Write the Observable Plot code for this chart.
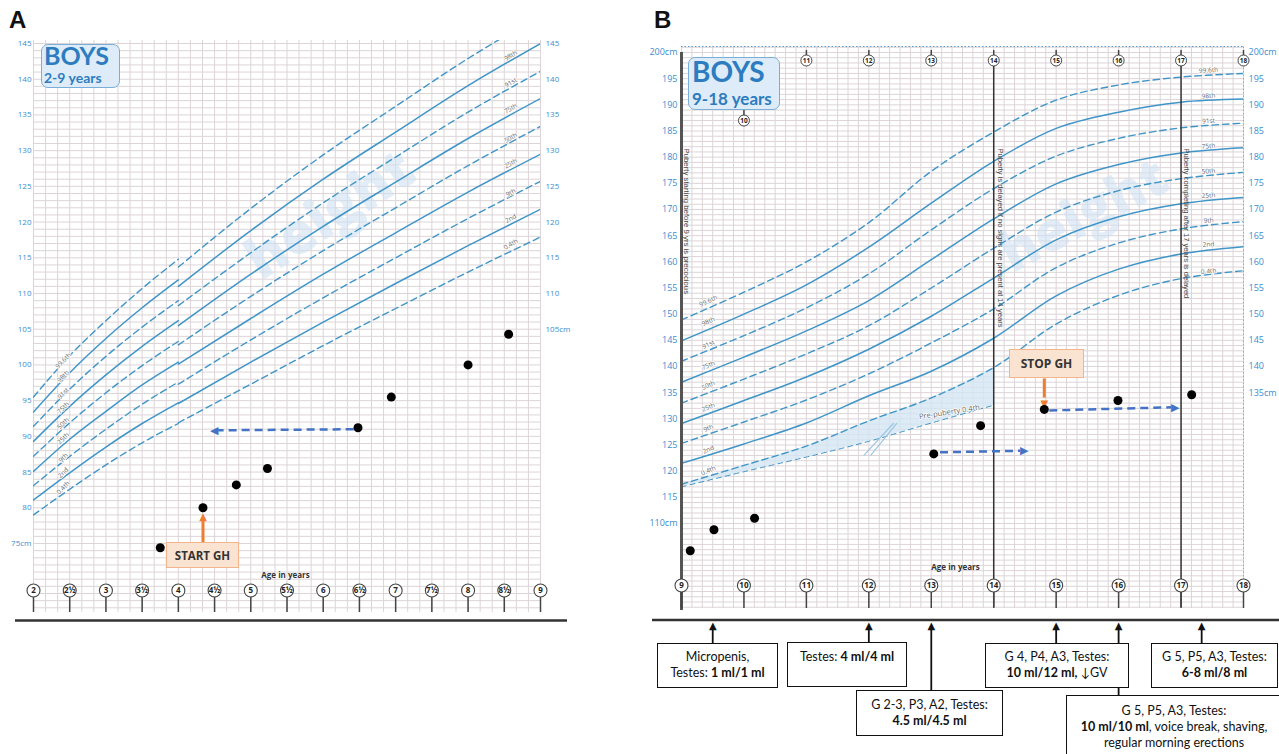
<!DOCTYPE html>
<html><head><meta charset="utf-8">
<script src="https://cdn.jsdelivr.net/npm/d3@7"></script>
<script src="https://cdn.jsdelivr.net/npm/@observablehq/plot@0.6"></script>
<style>
html,body{margin:0;padding:0;background:#fff;}
body{width:1279px;height:754px;position:relative;overflow:hidden;}
#A,#B{position:absolute;top:0;}
#A{left:0;} #B{left:640px;}
#A svg,#B svg{max-width:none;display:block;}
.letter{position:absolute;font:bold 24px "Liberation Sans",Arial,sans-serif;color:#111;line-height:1;}
.boxbg{position:absolute;background:#ddecf8;border:1.5px solid #7aaed6;border-radius:7px;box-sizing:border-box;}
.boys{position:absolute;color:#2d7cc0;font-family:Lato,"Open Sans",sans-serif;font-weight:bold;line-height:1.2;white-space:nowrap;}
.gh{position:absolute;background:#fbe3d1;border:1.5px solid #f2b48a;box-sizing:border-box;font:bold 11.5px "Open Sans",sans-serif;color:#333;display:flex;align-items:center;justify-content:center;}
.note{position:absolute;background:#fff;border:1.6px solid #111;box-sizing:border-box;font:12.5px Lato,"Open Sans",sans-serif;color:#111;text-align:center;line-height:16px;}
.note b{font-weight:bold;}
</style></head>
<body>
<div id="A"></div>
<div id="B"></div>
<div class="letter" style="left:9px;top:8px">A</div>
<div class="letter" style="left:654px;top:8px">B</div>
<div class="boxbg" style="left:41px;top:44px;width:79px;height:44px;"></div>
<div class="boys" style="left:44px;top:40px;font-size:25px;">BOYS</div>
<div class="boys" style="left:44px;top:70px;font-size:14px;">2-9 years</div>
<div class="boxbg" style="left:688px;top:57px;width:92px;height:53px;"></div>
<div class="boys" style="left:692px;top:55px;font-size:28px;">BOYS</div>
<div class="boys" style="left:692px;top:89px;font-size:17px;">9-18 years</div>
<div class="gh" style="left:166px;top:542px;width:73px;height:26px;">START GH</div>
<div class="gh" style="left:1009px;top:349px;width:75px;height:29px;font-size:12px;">STOP GH</div>
<div class="note" style="left:657px;top:643px;width:121px;height:45px;padding-top:5px;">Micropenis,<br>Testes: <b>1 ml/1 ml</b></div>
<div class="note" style="left:787px;top:642px;width:120px;height:45px;padding-top:6px;">Testes: <b>4 ml/4 ml</b></div>
<div class="note" style="left:856px;top:690px;width:147px;height:46px;padding-top:6px;">G 2-3, P3, A2, Testes:<br><b>4.5 ml/4.5 ml</b></div>
<div class="note" style="left:985px;top:643px;width:144px;height:45px;padding-top:5px;">G 4, P4, A3, Testes:<br><b>10 ml/12 ml,</b> &#8595;GV</div>
<div class="note" style="left:1066px;top:695px;width:216px;height:70px;padding-top:7px;">G 5, P5, A3, Testes:<br><b>10 ml/10 ml</b>, voice break, shaving,<br>regular morning erections</div>
<div class="note" style="left:1151px;top:643px;width:127px;height:45px;padding-top:5px;">G 5, P5, A3, Testes:<br><b>6-8 ml/8 ml</b></div>
<script>
// ---------------- data ----------------
const centiles = ["0.4th","2nd","9th","25th","50th","75th","91st","98th","99.6th"];
const dashedCentile = [true,false,true,false,true,false,true,false,true];

// Panel A, WHO part (2-4 y)
const agesA_who = [2, 2.5, 3, 3.5, 4];
const heightsA_who = [
  [79.0, 82.6, 86.0, 89.1, 91.8],
  [81.1, 84.9, 88.5, 91.8, 94.7],
  [83.1, 87.2, 91.0, 94.5, 97.6],
  [85.1, 89.6, 93.5, 97.2, 100.4],
  [87.2, 91.9, 96.1, 99.9, 103.3],
  [89.3, 94.2, 98.6, 102.6, 106.2],
  [91.4, 96.6, 101.2, 105.3, 109.0],
  [93.4, 98.9, 103.7, 108.0, 111.9],
  [95.5, 101.3, 106.2, 110.7, 114.8]
];
// Panel A, UK90 part (4-9 y)
const agesA_uk = [4, 5, 6, 7, 8, 9];
const heightsA_uk = [
  [91.9, 97.3, 102.7, 107.9, 113.0, 117.9],
  [94.6, 100.4, 106.0, 111.4, 116.7, 121.8],
  [97.3, 103.5, 109.4, 115.0, 120.5, 125.7],
  [100.1, 106.5, 112.7, 118.5, 124.2, 129.5],
  [102.8, 109.6, 116.0, 122.0, 127.9, 133.4],
  [105.5, 112.7, 119.4, 125.6, 131.7, 137.3],
  [108.3, 115.7, 122.7, 129.1, 135.4, 141.1],
  [111.0, 118.8, 126.0, 132.6, 139.1, 145.0],
  [113.7, 121.9, 129.4, 136.2, 142.9, 148.9]
];
// Panel B (9-18 y)
const agesB = [9, 10, 11, 12, 13, 14, 15, 16, 17, 18];
const heightsB = [
  [117.5, 121.1, 124.8, 129.6, 134.0, 139.8, 148.1, 153.6, 156.8, 158.3],
  [121.5, 125.2, 129.2, 134.4, 139.1, 145.4, 153.5, 158.6, 161.5, 162.9],
  [125.3, 129.4, 133.6, 138.6, 144.5, 151.0, 158.9, 163.6, 166.3, 167.7],
  [129.1, 133.5, 138.0, 143.3, 149.6, 156.9, 164.2, 168.6, 171.1, 172.3],
  [133.0, 137.6, 142.4, 147.8, 155.0, 162.6, 169.5, 173.6, 175.9, 177.1],
  [137.0, 141.8, 146.8, 152.6, 160.4, 168.2, 174.9, 178.6, 180.8, 181.8],
  [141.0, 145.9, 151.2, 157.7, 166.1, 174.0, 180.2, 183.6, 185.6, 186.5],
  [144.9, 150.0, 155.6, 162.8, 171.2, 179.2, 185.5, 188.6, 190.5, 191.1],
  [148.9, 154.2, 160.0, 167.5, 177.3, 184.8, 190.9, 193.8, 195.3, 196.0]
];
const agesPrePuberty = [9, 10, 11, 12, 13, 14];
const heightsPrePuberty = [117.0, 119.9, 122.7, 125.7, 129.2, 132.6];

// patient measurements
const patientAgesA = [3.75, 4.34, 4.80, 5.23, 6.48, 6.94, 8.00, 8.56];
const patientHeightsA = [74.4, 80.0, 83.2, 85.5, 91.2, 95.5, 100.0, 104.3];
const patientAgesB = [9.14, 9.52, 10.17, 13.04, 13.79, 14.81, 15.99, 17.17];
const patientHeightsB = [104.8, 108.8, 111.0, 123.3, 128.7, 131.8, 133.5, 134.6];

// dashed blue arrows
const blueArrowsA = [{x1: 6.42, y1: 91.0, x2: 4.45, y2: 90.85}];
const blueArrowsB = [{x1: 13.14, y1: 123.6, x2: 14.54, y2: 123.9}, {x1: 14.89, y1: 131.6, x2: 16.96, y2: 132.2}];

// axis ticks
const ageTicksA = [2, 2.5, 3, 3.5, 4, 4.5, 5, 5.5, 6, 6.5, 7, 7.5, 8, 8.5, 9];
const ageLabelsA = ["2","2½","3","3½","4","4½","5","5½","6","6½","7","7½","8","8½","9"];
const ageTicksB = [9, 10, 11, 12, 13, 14, 15, 16, 17, 18];
const cmTicksA_left = [75, 80, 85, 90, 95, 100, 105, 110, 115, 120, 125, 130, 135, 140, 145];
const cmTicksA_right = [105, 110, 115, 120, 125, 130, 135, 140, 145];
const cmTicksB_left = [110, 115, 120, 125, 130, 135, 140, 145, 150, 155, 160, 165, 170, 175, 180, 185, 190, 195, 200];
const cmTicksB_right = [135, 140, 145, 150, 155, 160, 165, 170, 175, 180, 185, 190, 195, 200];

// centile label anchors (cm)
const labelCmA_left = [82.8, 84.9, 87.0, 89.7, 91.8, 94.0, 96.0, 98.4, 100.6];
const labelCmA_right = [116.9, 120.5, 124.1, 128.2, 131.8, 135.9, 139.5, 143.3];
const labelCmB_left = [120.1, 124.1, 128.2, 132.2, 136.4, 140.2, 144.2, 148.6, 152.5];
const labelCmB_right = [158.2, 163.3, 167.9, 172.7, 177.3, 182.1, 186.9, 191.7, 196.6];

// bottom annotation arrows (age pointed at)
const noteAgesB = [9.5, 12, 13, 15, 16, 17.33];
const noteTopsPx = [643, 642, 690, 643, 695, 643];

// ---------------- scales ----------------
const xA = d3.scaleLinear().domain([2, 9]).range([33, 540]);
const yA = d3.scaleLinear().domain([75, 145]).range([543, 43]);
const xB = d3.scaleLinear().domain([9, 18]).range([41, 603]);
const yB = d3.scaleLinear().domain([110, 200]).range([523, 52]);

const lineColor = "#3f95c8";
const gridColor = "#ddd4d8";
const axisBlue = "#3b8dd0";
const dash = "6.5,4";

function rows(ages, table, seg) {
  const out = [];
  table.forEach((hs, i) => hs.forEach((h, j) => out.push({age: ages[j], h, c: centiles[i] + seg, dashed: dashedCentile[i]})));
  return out;
}
const curvesA = rows(agesA_who, heightsA_who, "a").concat(rows(agesA_uk, heightsA_uk, "b"));
const curvesB = rows(agesB, heightsB, "");

const labelFont = {fontFamily: "Open Sans, sans-serif", fontSize: 6.5, fill: "#666", stroke: "white", strokeWidth: 1.5};
const yLabFont = {fontFamily: "Liberation Sans Narrow, Open Sans, sans-serif", fill: axisBlue};

// ---------------- panel A ----------------
const gridAgesA = d3.range(0, 43).map(i => 2 + i / 6);
const gridCmA = d3.range(66, 146);
const plotA = Plot.plot({
  width: 640, height: 754,
  marginLeft: 33, marginRight: 100, marginTop: 40, marginBottom: 142,
  x: {domain: xA.domain(), range: xA.range(), axis: null},
  y: {domain: yA.domain(), range: yA.range(), axis: null},
  style: {background: "transparent", overflow: "visible"},
  marks: [
    Plot.ruleX(gridAgesA, {y1: yA.invert(612), y2: yA.invert(40), stroke: gridColor, strokeWidth: 1}),
    Plot.ruleY(gridCmA, {x1: 2, x2: 9, stroke: gridColor, strokeWidth: 1}),
    Plot.text(["height"], {x: 6.1, y: 121.0, rotate: -33, fontSize: 56, fontWeight: 900, fontFamily: "Open Sans, sans-serif", fill: "#cfe1f1", fillOpacity: 0.6}),
    Plot.line(curvesA.filter(d => !d.dashed), {x: "age", y: "h", z: "c", stroke: lineColor, strokeWidth: 1.5, curve: "monotone-x", clip: true}),
    Plot.line(curvesA.filter(d => d.dashed), {x: "age", y: "h", z: "c", stroke: lineColor, strokeWidth: 1.4, strokeDasharray: dash, curve: "monotone-x", clip: true}),
    Plot.text(centiles, {x: () => 2.41, y: (d, i) => labelCmA_left[i], text: d => d, rotate: -45, ...labelFont}),
    Plot.text(centiles.slice(0, 8), {x: () => 8.59, y: (d, i) => labelCmA_right[i], text: d => d, rotate: -30, ...labelFont}),
    Plot.text(cmTicksA_left, {x: xA.invert(31), y: d => d, text: d => d === 75 ? "75cm" : String(d), textAnchor: "end", fontSize: 8, ...yLabFont}),
    Plot.text(cmTicksA_right, {x: xA.invert(545), y: d => d, text: d => d === 105 ? "105cm" : String(d), textAnchor: "start", fontSize: 8, ...yLabFont}),
    Plot.ruleX(ageTicksA, {y1: yA.invert(596), y2: yA.invert(612), stroke: "#444", strokeWidth: 1.5}),
    Plot.dot(ageTicksA, {x: d => d, y: yA.invert(590), r: 6.5, fill: "white", stroke: "#444", strokeWidth: 1.1}),
    Plot.text(ageTicksA, {x: d => d, y: yA.invert(590), text: (d, i) => ageLabelsA[i], fontSize: 8, fontWeight: "bold", fontFamily: "Open Sans, sans-serif", fill: "#222"}),
    Plot.text(["Age in years"], {x: xA.invert(285), y: yA.invert(575), fontSize: 8, fontWeight: "bold", fontFamily: "Open Sans, sans-serif", fill: "#333"}),
    Plot.ruleY([yA.invert(620)], {x1: xA.invert(15), x2: xA.invert(567), stroke: "#333", strokeWidth: 2.5}),
    Plot.link(blueArrowsA, {x1: "x1", y1: "y1", x2: d => d.x2 + 0.1, y2: "y2", stroke: "#4472c4", strokeWidth: 2.5, strokeDasharray: "8,5"}),
    Plot.text(blueArrowsA, {x: "x2", y: "y2", text: () => "◀", textAnchor: "start", dx: -1, fontSize: 11, fill: "#4472c4", fontFamily: "DejaVu Sans"}),
    Plot.link([4.34], {x1: d => d, x2: d => d, y1: yA.invert(542), y2: yA.invert(520), stroke: "#ed7d31", strokeWidth: 3}),
    Plot.text([4.34], {x: d => d, y: yA.invert(513), text: () => "▲", lineAnchor: "top", dy: -1, fontSize: 10, fill: "#ed7d31", fontFamily: "DejaVu Sans"}),
    Plot.dot(patientAgesA, {x: d => d, y: (d, i) => patientHeightsA[i], r: 4.5, fill: "black"})
  ]
});
document.getElementById("A").append(plotA);

// ---------------- panel B ----------------
const gridAgesB = d3.range(0, 55).map(i => 9 + i / 6);
const gridCmB = d3.range(94, 202);
const prepub = agesPrePuberty.map((a, i) => ({age: a, lo: heightsPrePuberty[i], hi: heightsB[0][i]}));
const topTickY = yB.invert(60);
const plotB = Plot.plot({
  width: 639, height: 754,
  marginLeft: 41, marginRight: 36, marginTop: 46, marginBottom: 146,
  x: {domain: xB.domain(), range: xB.range(), axis: null},
  y: {domain: yB.domain(), range: yB.range(), axis: null},
  style: {background: "transparent", overflow: "visible"},
  marks: [
    Plot.ruleX(gridAgesB, {y1: yB.invert(608), y2: yB.invert(46), stroke: gridColor, strokeWidth: 1}),
    Plot.ruleY(gridCmB, {x1: 9, x2: 18, stroke: gridColor, strokeWidth: 1}),
    Plot.ruleY([yB.invert(46)], {x1: 9, x2: 18, stroke: "#5b9bd5", strokeWidth: 1.2, strokeDasharray: "1.5,2"}),
    Plot.ruleX([18], {y1: yB.invert(608), y2: yB.invert(46), stroke: "#9ab", strokeWidth: 1, strokeDasharray: "1.5,2"}),
    Plot.areaY(prepub, {x: "age", y1: "lo", y2: "hi", fill: "#d3e6f4", fillOpacity: 0.8, curve: "catmull-rom"}),
    Plot.text(["height"], {x: 15.45, y: 168.8, rotate: -28, fontSize: 54, fontWeight: 900, fontFamily: "Open Sans, sans-serif", fill: "#cfe1f1", fillOpacity: 0.6}),
    Plot.line(prepub, {x: "age", y: "lo", stroke: lineColor, strokeWidth: 1, strokeDasharray: "5,4", curve: "catmull-rom"}),
    Plot.line(curvesB.filter(d => !d.dashed), {x: "age", y: "h", z: "c", stroke: lineColor, strokeWidth: 1.5, curve: "catmull-rom", clip: true}),
    Plot.line(curvesB.filter(d => d.dashed), {x: "age", y: "h", z: "c", stroke: lineColor, strokeWidth: 1.4, strokeDasharray: dash, curve: "catmull-rom", clip: true}),
    Plot.link([{a: 11.92, b: 12.40}, {a: 12.03, b: 12.45}], {x1: "a", y1: 123.0, x2: "b", y2: 129.2, stroke: "#9cc5e3", strokeWidth: 1.2}),
    Plot.text(["Pre-puberty 0.4th"], {x: 13.29, y: 131.3, rotate: -9, ...labelFont, fontSize: 7.5}),
    Plot.ruleX([9], {y1: yB.invert(610), y2: yB.invert(52), stroke: "#555", strokeWidth: 3}),
    Plot.ruleX([14, 17], {y1: yB.invert(607), y2: topTickY, stroke: "#333", strokeWidth: 1.5}),
    Plot.text(["Puberty starting before 9 yrs is precocious"], {x: 9.08, y: yB.invert(148), rotate: 90, textAnchor: "start", fontSize: 7.8, fontFamily: "Liberation Sans, sans-serif", fill: "#444"}),
    Plot.text(["Puberty is delayed if no signs are present at 14 years"], {x: 14.11, y: yB.invert(148), rotate: 90, textAnchor: "start", fontSize: 7.6, fontFamily: "Liberation Sans Narrow, Liberation Sans, sans-serif", fill: "#444"}),
    Plot.text(["Puberty completing after 17 years is delayed"], {x: 17.09, y: yB.invert(148), rotate: 90, textAnchor: "start", fontSize: 7.6, fontFamily: "Liberation Sans Narrow, Liberation Sans, sans-serif", fill: "#444"}),
    Plot.text(centiles, {x: () => 9.43, y: (d, i) => labelCmB_left[i], text: d => d, rotate: -25, ...labelFont}),
    Plot.text(centiles, {x: () => 17.44, y: (d, i) => labelCmB_right[i], text: d => d, rotate: -4, ...labelFont}),
    Plot.text(cmTicksB_left, {x: xB.invert(37), y: d => d, text: d => (d === 110 || d === 200) ? d + "cm" : String(d), textAnchor: "end", fontSize: 9, ...yLabFont}),
    Plot.text(cmTicksB_right, {x: xB.invert(608), y: d => d, text: d => (d === 135 || d === 200) ? d + "cm" : String(d), textAnchor: "start", fontSize: 9, ...yLabFont}),
    Plot.ruleX(ageTicksB, {y1: yB.invert(591), y2: yB.invert(608), stroke: "#444", strokeWidth: 1.5}),
    Plot.dot(ageTicksB, {x: d => d, y: yB.invert(585), r: 6.5, fill: "white", stroke: "#444", strokeWidth: 1.1}),
    Plot.text(ageTicksB, {x: d => d, y: yB.invert(585), text: d => String(d), fontSize: 8, fontWeight: "bold", fontFamily: "Open Sans, sans-serif", fill: "#222"}),
    Plot.ruleX(ageTicksB.slice(2), {y1: yB.invert(50), y2: yB.invert(55), stroke: "#444", strokeWidth: 1.5}),
    Plot.dot(ageTicksB.slice(2), {x: d => d, y: topTickY, r: 5.5, fill: "white", stroke: "#444", strokeWidth: 1}),
    Plot.text(ageTicksB.slice(2), {x: d => d, y: topTickY, text: d => String(d), fontSize: 6.5, fontWeight: "bold", fontFamily: "Open Sans, sans-serif", fill: "#222"}),
    Plot.ruleX([10], {y1: yB.invert(110), y2: yB.invert(115), stroke: "#444", strokeWidth: 1.5}),
    Plot.dot([10], {x: d => d, y: yB.invert(120), r: 5.5, fill: "white", stroke: "#444", strokeWidth: 1}),
    Plot.text([10], {x: d => d, y: yB.invert(120), text: d => String(d), fontSize: 6.5, fontWeight: "bold", fontFamily: "Open Sans, sans-serif", fill: "#222"}),
    Plot.text(["Age in years"], {x: xB.invert(315), y: yB.invert(567), fontSize: 8, fontWeight: "bold", fontFamily: "Open Sans, sans-serif", fill: "#333"}),
    Plot.link(blueArrowsB, {x1: "x1", y1: "y1", x2: d => d.x2 - 0.12, y2: "y2", stroke: "#4472c4", strokeWidth: 2.5, strokeDasharray: "8,5"}),
    Plot.text(blueArrowsB, {x: "x2", y: "y2", text: () => "▶", textAnchor: "end", dx: 1, fontSize: 11, fill: "#4472c4", fontFamily: "DejaVu Sans"}),
    Plot.link([14.81], {x1: d => d, x2: d => d, y1: yB.invert(378), y2: yB.invert(397), stroke: "#ed7d31", strokeWidth: 3}),
    Plot.text([14.81], {x: d => d, y: yB.invert(405), text: () => "▼", lineAnchor: "bottom", dy: 1, fontSize: 10, fill: "#ed7d31", fontFamily: "DejaVu Sans"}),
    Plot.dot(patientAgesB, {x: d => d, y: (d, i) => patientHeightsB[i], r: 4.5, fill: "black"}),
    Plot.ruleY([yB.invert(619.5)], {x1: xB.invert(12), x2: xB.invert(639), stroke: "#333", strokeWidth: 2.5}),
    Plot.ruleX(noteAgesB, {y1: (d, i) => yB.invert(noteTopsPx[i]), y2: yB.invert(629), stroke: "#111", strokeWidth: 1.8}),
    Plot.text(noteAgesB, {x: d => d, y: yB.invert(622), text: () => "▲", lineAnchor: "top", dy: -1, fontSize: 10, fill: "#111", fontFamily: "DejaVu Sans"})
  ]
});
document.getElementById("B").append(plotB);
</script>
</body></html>
